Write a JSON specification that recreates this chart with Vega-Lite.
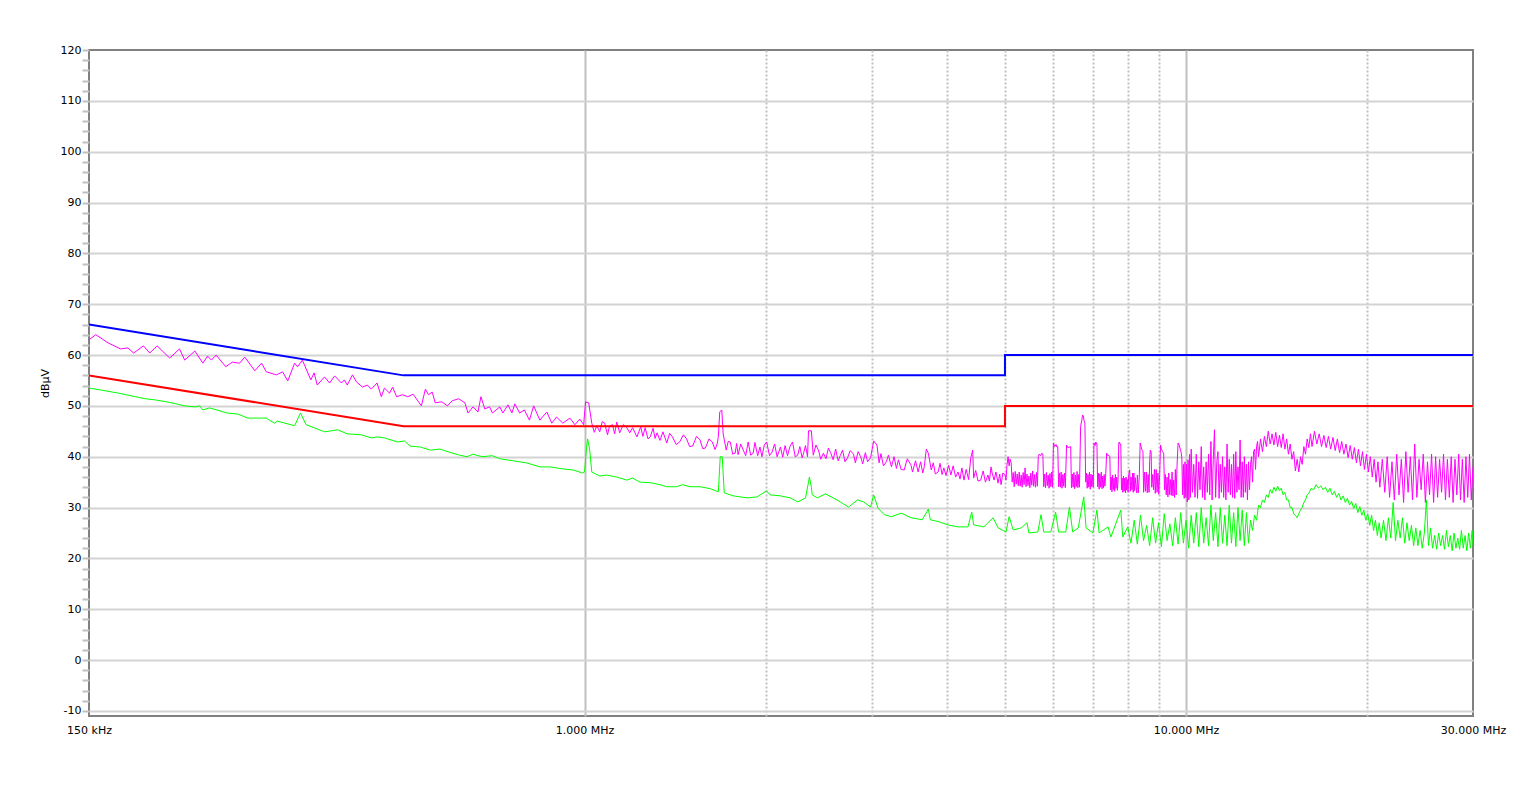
{
"$schema": "https://vega.github.io/schema/vega-lite/v6.json",
"width": 1384, "height": 666,
"autosize": {"type": "none"},
"padding": {"left": 89, "top": 50, "right": 51, "bottom": 71},
"background": "white",
"config": {
 "view": {"stroke": "#808080", "strokeWidth": 2},
 "axis": {"labelFont": "DejaVu Sans", "labelFontSize": 11, "labelColor": "#000000", "titleFont": "DejaVu Sans", "titleFontSize": 11, "titleFontWeight": "normal", "titleColor": "#000000"}
},
"datasets": {
"qp": [{"i":0,"f":0.15,"v":66},{"i":1,"f":0.5,"v":56},{"i":2,"f":5,"v":56},{"i":3,"f":5,"v":60},{"i":4,"f":30,"v":60}],
"avl": [{"i":0,"f":0.15,"v":56},{"i":1,"f":0.5,"v":46},{"i":2,"f":5,"v":46},{"i":3,"f":5,"v":50},{"i":4,"f":30,"v":50}],
"pk": [
{"f":0.150,"v":63.0},{"f":0.154,"v":64.0},{"f":0.1613,"v":62.4},{"f":0.1693,"v":61.2},{"f":0.174,"v":61.4},{"f":0.178,"v":60.4},{"f":0.1847,"v":61.8},{"f":0.1893,"v":60.4},{"f":0.1947,"v":61.8},{"f":0.2043,"v":59.4},{"f":0.2121,"v":61.2},{"f":0.2164,"v":59.0},{"f":0.225,"v":60.8},{"f":0.2319,"v":58.4},{"f":0.2362,"v":59.8},{"f":0.2397,"v":59.0},{"f":0.244,"v":60.0},{"f":0.2532,"v":57.7},{"f":0.2596,"v":58.6},{"f":0.267,"v":58.4},{"f":0.2723,"v":59.6},{"f":0.283,"v":56.9},{"f":0.2904,"v":58.4},{"f":0.2957,"v":56.7},{"f":0.3074,"v":56.1},{"f":0.3148,"v":56.7},{"f":0.321,"v":54.9},{"f":0.3296,"v":58.4},{"f":0.3333,"v":57.7},{"f":0.3395,"v":59.0},{"f":0.3507,"v":55.1},{"f":0.3551,"v":56.5},{"f":0.3594,"v":54.1},{"f":0.3696,"v":55.7},{"f":0.3768,"v":54.5},{"f":0.3841,"v":55.9},{"f":0.3942,"v":54.5},{"f":0.3986,"v":55.1},{"f":0.4032,"v":54.1},{"f":0.4113,"v":56.1},{"f":0.4177,"v":54.7},{"f":0.4274,"v":53.7},{"f":0.4354,"v":54.1},{"f":0.4419,"v":53.3},{"f":0.4519,"v":54.5},{"f":0.4593,"v":51.8},{"f":0.4648,"v":53.5},{"f":0.474,"v":52.5},{"f":0.4796,"v":53.7},{"f":0.487,"v":51.8},{"f":0.4981,"v":52.2},
{"f":0.5083,"v":51.8},{"f":0.5187,"v":52.3},{"f":0.5354,"v":50.0},{"f":0.5437,"v":53.3},{"f":0.550,"v":52.2},{"f":0.5582,"v":52.7},{"f":0.5645,"v":50.6},{"f":0.579,"v":50.8},{"f":0.5915,"v":50.0},{"f":0.6025,"v":51.0},{"f":0.6175,"v":51.4},{"f":0.6325,"v":50.6},{"f":0.640,"v":48.6},{"f":0.6525,"v":49.8},{"f":0.665,"v":48.8},{"f":0.6725,"v":51.8},{"f":0.6825,"v":49.4},{"f":0.695,"v":49.8},{"f":0.7029,"v":48.6},{"f":0.7229,"v":49.8},{"f":0.7315,"v":48.6},{"f":0.7458,"v":50.2},{"f":0.7572,"v":48.6},{"f":0.7658,"v":50.4},{"f":0.780,"v":48.6},{"f":0.7943,"v":49.2},{"f":0.8098,"v":47.2},{"f":0.823,"v":50.0},{"f":0.8426,"v":47.2},{"f":0.8656,"v":48.8},{"f":0.882,"v":46.6},{"f":0.8984,"v":47.8},{"f":0.920,"v":46.6},{"f":0.9455,"v":47.6},{"f":0.9637,"v":46.3},{"f":0.9819,"v":47.4},{"f":0.9965,"v":46.3},
{"f":1.004,"v":50.8},{"f":1.016,"v":50.6},{"f":1.028,"v":46.6},{"f":1.038,"v":44.8},{"f":1.048,"v":46.1},{"f":1.060,"v":44.9},{"f":1.07,"v":46.9},{"f":1.080,"v":46.6},{"f":1.092,"v":44.3},{"f":1.10,"v":46.0},{"f":1.113,"v":46.3},{"f":1.122,"v":44.5},{"f":1.131,"v":46.8},{"f":1.144,"v":44.7},{"f":1.16,"v":46.3},{"f":1.176,"v":45.7},{"f":1.189,"v":44.7},{"f":1.202,"v":45.7},{"f":1.222,"v":43.9},{"f":1.24,"v":45.9},{"f":1.25,"v":44.0},{"f":1.261,"v":45.7},{"f":1.275,"v":43.5},{"f":1.286,"v":43.9},{"f":1.30,"v":45.6},{"f":1.31,"v":43.6},{"f":1.320,"v":44.7},{"f":1.335,"v":43.2},{"f":1.350,"v":44.9},{"f":1.370,"v":42.7},{"f":1.385,"v":44.6},{"f":1.400,"v":43.9},{"f":1.42,"v":42.4},{"f":1.439,"v":42.9},{"f":1.46,"v":44.3},{"f":1.478,"v":43.5},{"f":1.495,"v":42.0},{"f":1.513,"v":42.1},{"f":1.535,"v":44.0},{"f":1.556,"v":43.3},{"f":1.572,"v":41.6},{"f":1.588,"v":41.7},{"f":1.61,"v":43.5},{"f":1.631,"v":42.9},{"f":1.648,"v":41.4},{"f":1.663,"v":42.7},{"f":1.669,"v":44.0},{"f":1.678,"v":48.8},{"f":1.691,"v":49.2},{"f":1.700,"v":44.5},
{"f":1.720,"v":41.3},{"f":1.733,"v":43.0},{"f":1.747,"v":42.9},{"f":1.763,"v":40.5},{"f":1.780,"v":40.7},{"f":1.79,"v":42.6},{"f":1.80,"v":40.4},{"f":1.818,"v":42.5},{"f":1.836,"v":41.3},{"f":1.853,"v":40.2},{"f":1.871,"v":42.9},{"f":1.889,"v":40.3},{"f":1.907,"v":40.7},{"f":1.92,"v":42.8},{"f":1.94,"v":40.2},{"f":1.957,"v":41.9},{"f":1.972,"v":40.0},{"f":1.99,"v":42.3},{"f":2.008,"v":42.9},{"f":2.03,"v":40.2},{"f":2.050,"v":40.9},{"f":2.07,"v":42.5},{"f":2.09,"v":40.0},{"f":2.117,"v":41.9},{"f":2.135,"v":39.9},{"f":2.155,"v":42.2},{"f":2.175,"v":40.2},{"f":2.195,"v":42.0},{"f":2.217,"v":42.9},{"f":2.24,"v":40.0},{"f":2.261,"v":40.3},{"f":2.28,"v":42.0},{"f":2.30,"v":39.8},{"f":2.313,"v":40.7},{"f":2.33,"v":42.2},{"f":2.348,"v":40.0},{"f":2.357,"v":45.1},{"f":2.383,"v":45.1},{"f":2.400,"v":40.3},{"f":2.425,"v":42.3},{"f":2.448,"v":41.3},{"f":2.47,"v":39.5},{"f":2.495,"v":40.7},{"f":2.52,"v":39.6},{"f":2.543,"v":41.7},{"f":2.565,"v":40.8},{"f":2.590,"v":39.4},{"f":2.615,"v":41.5},{"f":2.64,"v":39.2},{"f":2.663,"v":40.3},{"f":2.685,"v":41.3},{"f":2.71,"v":39.0},{"f":2.737,"v":39.8},{"f":2.765,"v":41.2},{"f":2.800,"v":40.5},{"f":2.82,"v":38.8},{"f":2.85,"v":41.0},{"f":2.878,"v":40.0},{"f":2.9,"v":38.6},{"f":2.93,"v":40.8},{"f":2.955,"v":39.0},{"f":2.989,"v":39.8},{"f":3.025,"v":43.1},{"f":3.063,"v":42.3},{"f":3.088,"v":38.8},{"f":3.11,"v":40.6},{"f":3.14,"v":38.2},{"f":3.175,"v":39.0},{"f":3.2,"v":40.3},{"f":3.238,"v":38.0},{"f":3.27,"v":40.0},{"f":3.3,"v":37.7},{"f":3.325,"v":39.4},{"f":3.36,"v":37.5},{"f":3.40,"v":37.4},{"f":3.44,"v":39.6},{"f":3.488,"v":38.4},{"f":3.51,"v":37.0},{"f":3.55,"v":39.2},{"f":3.586,"v":37.0},{"f":3.62,"v":39.0},{"f":3.65,"v":36.8},{"f":3.671,"v":38.0},{"f":3.70,"v":41.5},{"f":3.729,"v":40.7},{"f":3.771,"v":37.4},{"f":3.80,"v":38.8},{"f":3.83,"v":36.6},{"f":3.871,"v":37.0},{"f":3.90,"v":38.7},{"f":3.93,"v":36.5},{"f":3.957,"v":37.8},{"f":3.99,"v":36.3},{"f":4.03,"v":38.3},{"f":4.065,"v":36.4},{"f":4.1,"v":38.2},{"f":4.14,"v":36.0},{"f":4.177,"v":37.0},{"f":4.21,"v":35.6},{"f":4.24,"v":37.8},{"f":4.274,"v":35.4},{"f":4.31,"v":37.5},{"f":4.35,"v":35.5},{"f":4.387,"v":39.8},{"f":4.419,"v":41.3},{"f":4.435,"v":35.8},{"f":4.47,"v":37.3},{"f":4.51,"v":35.2},{"f":4.556,"v":35.4},{"f":4.6,"v":37.2},{"f":4.64,"v":35.0},{"f":4.685,"v":36.4},{"f":4.71,"v":35.2},{"f":4.741,"v":38.0},{"f":4.76,"v":36.8},{"f":4.796,"v":35.4},{"f":4.83,"v":37.0},{"f":4.87,"v":34.8},{"f":4.9,"v":36.6},{"f":4.926,"v":34.5},{"f":4.96,"v":36.8},
{"f":5.00,"v":36.5},{"f":5.02,"v":35.4},{"f":5.04,"v":38.5},{"f":5.06,"v":40.0},{"f":5.08,"v":38.2},{"f":5.10,"v":39.5},{"f":5.12,"v":38.8},{"f":5.14,"v":35.0},{"f":5.16,"v":36.9},{"f":5.18,"v":34.1},{"f":5.20,"v":37.1},{"f":5.22,"v":34.6},{"f":5.24,"v":36.6},{"f":5.26,"v":34.3},{"f":5.28,"v":37.0},{"f":5.30,"v":34.2},{"f":5.32,"v":36.4},{"f":5.34,"v":34.0},{"f":5.36,"v":36.9},{"f":5.38,"v":34.5},{"f":5.40,"v":37.8},{"f":5.42,"v":34.1},{"f":5.44,"v":36.6},{"f":5.46,"v":34.3},{"f":5.48,"v":36.2},{"f":5.50,"v":33.9},{"f":5.52,"v":36.8},{"f":5.54,"v":34.4},{"f":5.56,"v":37.2},{"f":5.58,"v":34.2},{"f":5.60,"v":36.5},{"f":5.62,"v":34.0},{"f":5.64,"v":36.9},{"f":5.66,"v":34.2},
{"f":5.68,"v":40.0},{"f":5.70,"v":40.5},{"f":5.73,"v":40.2},{"f":5.76,"v":40.7},{"f":5.78,"v":40.5},{"f":5.80,"v":34.1},
{"f":5.82,"v":36.6},{"f":5.84,"v":33.9},{"f":5.86,"v":36.9},{"f":5.88,"v":34.3},{"f":5.90,"v":36.4},{"f":5.92,"v":33.8},{"f":5.94,"v":36.7},{"f":5.96,"v":34.1},{"f":5.98,"v":37.0},{"f":6.00,"v":34.0},
{"f":6.02,"v":42.7},{"f":6.05,"v":42.0},{"f":6.08,"v":42.4},{"f":6.10,"v":41.9},{"f":6.12,"v":42.0},{"f":6.14,"v":34.1},
{"f":6.16,"v":36.8},{"f":6.18,"v":34.0},{"f":6.20,"v":37.0},{"f":6.22,"v":33.8},{"f":6.24,"v":36.5},{"f":6.26,"v":34.2},{"f":6.28,"v":36.8},{"f":6.30,"v":33.9},
{"f":6.33,"v":42.3},{"f":6.36,"v":41.8},{"f":6.40,"v":41.9},{"f":6.43,"v":42.0},{"f":6.45,"v":33.9},
{"f":6.47,"v":36.6},{"f":6.49,"v":34.0},{"f":6.51,"v":36.9},{"f":6.53,"v":33.7},{"f":6.55,"v":36.4},{"f":6.57,"v":34.1},{"f":6.59,"v":37.1},{"f":6.61,"v":33.9},{"f":6.63,"v":36.5},{"f":6.65,"v":34.0},
{"f":6.68,"v":46.0},{"f":6.71,"v":47.2},{"f":6.73,"v":48.2},{"f":6.75,"v":48.0},{"f":6.77,"v":47.0},{"f":6.79,"v":46.6},{"f":6.81,"v":35.0},
{"f":6.83,"v":36.8},{"f":6.85,"v":33.8},{"f":6.87,"v":36.5},{"f":6.89,"v":34.0},{"f":6.91,"v":37.0},{"f":6.93,"v":33.6},{"f":6.95,"v":36.6},{"f":6.97,"v":34.1},{"f":6.99,"v":36.4},{"f":7.01,"v":34.0},
{"f":7.03,"v":42.7},{"f":7.06,"v":42.2},{"f":7.08,"v":42.9},{"f":7.11,"v":42.5},{"f":7.13,"v":34.1},
{"f":7.15,"v":36.8},{"f":7.17,"v":33.6},{"f":7.19,"v":36.6},{"f":7.21,"v":34.0},{"f":7.23,"v":37.0},{"f":7.25,"v":33.7},{"f":7.27,"v":36.2},{"f":7.29,"v":33.9},{"f":7.31,"v":36.5},{"f":7.33,"v":34.2},{"f":7.35,"v":36.0},
{"f":7.38,"v":40.7},{"f":7.41,"v":40.2},{"f":7.44,"v":40.3},{"f":7.47,"v":40.0},{"f":7.49,"v":33.5},
{"f":7.51,"v":36.0},{"f":7.53,"v":33.1},{"f":7.55,"v":36.4},{"f":7.57,"v":33.5},{"f":7.59,"v":35.8},{"f":7.61,"v":33.2},{"f":7.63,"v":36.5},{"f":7.65,"v":33.8},{"f":7.67,"v":36.0},{"f":7.69,"v":33.4},{"f":7.71,"v":35.5},
{"f":7.73,"v":42.7},{"f":7.75,"v":42.9},{"f":7.77,"v":42.4},{"f":7.79,"v":42.5},{"f":7.81,"v":33.5},
{"f":7.83,"v":35.8},{"f":7.85,"v":33.0},{"f":7.87,"v":36.2},{"f":7.89,"v":33.2},{"f":7.91,"v":35.8},{"f":7.93,"v":32.9},{"f":7.95,"v":36.0},{"f":7.97,"v":33.4},{"f":7.99,"v":35.5},{"f":8.01,"v":33.0},
{"f":8.03,"v":36.5},{"f":8.06,"v":37.4},{"f":8.08,"v":33.2},{"f":8.10,"v":36.0},{"f":8.13,"v":33.5},{"f":8.15,"v":36.8},{"f":8.17,"v":33.0},{"f":8.19,"v":36.8},{"f":8.21,"v":33.3},{"f":8.23,"v":35.9},{"f":8.25,"v":34.5},{"f":8.28,"v":32.9},{"f":8.30,"v":36.4},{"f":8.33,"v":32.9},{"f":8.36,"v":36.0},
{"f":8.39,"v":42.7},{"f":8.42,"v":42.0},{"f":8.45,"v":41.3},{"f":8.48,"v":41.0},{"f":8.50,"v":33.0},
{"f":8.53,"v":37.0},{"f":8.56,"v":33.2},{"f":8.59,"v":37.0},{"f":8.62,"v":32.9},{"f":8.65,"v":36.5},{"f":8.68,"v":33.0},
{"f":8.70,"v":39.0},{"f":8.72,"v":41.3},{"f":8.75,"v":41.0},{"f":8.77,"v":34.0},
{"f":8.80,"v":36.5},{"f":8.83,"v":33.5},{"f":8.86,"v":37.5},{"f":8.89,"v":32.8},{"f":8.92,"v":37.5},{"f":8.95,"v":33.0},{"f":8.98,"v":36.8},{"f":9.01,"v":32.6},{"f":9.04,"v":36.5},
{"f":9.07,"v":42.3},{"f":9.10,"v":41.5},{"f":9.14,"v":41.0},{"f":9.18,"v":40.7},{"f":9.21,"v":33.5},
{"f":9.24,"v":36.5},{"f":9.27,"v":32.5},{"f":9.30,"v":36.0},{"f":9.33,"v":32.1},{"f":9.36,"v":36.8},{"f":9.39,"v":32.5},{"f":9.42,"v":35.5},{"f":9.45,"v":32.4},{"f":9.48,"v":37.0},{"f":9.51,"v":32.3},{"f":9.54,"v":35.4},{"f":9.57,"v":32.0},{"f":9.60,"v":37.5},{"f":9.63,"v":32.5},{"f":9.66,"v":38.0},
{"f":9.70,"v":42.7},{"f":9.74,"v":42.3},{"f":9.78,"v":41.5},{"f":9.81,"v":41.0},{"f":9.84,"v":39.8},{"f":9.87,"v":32.5},
{"f":9.90,"v":38.5},{"f":9.93,"v":31.8},{"f":9.96,"v":39.0},{"f":9.99,"v":32.0},{"f":10.02,"v":38.5},{"f":10.05,"v":31.1},{"f":10.08,"v":39.4},{"f":10.11,"v":31.5},{"f":10.14,"v":40.5},{"f":10.17,"v":32.0},
{"f":10.20,"v":41.5},{"f":10.25,"v":33.0},{"f":10.30,"v":38.5},{"f":10.35,"v":32.0},{"f":10.40,"v":40.5},{"f":10.45,"v":31.8},{"f":10.50,"v":39.0},{"f":10.55,"v":33.5},{"f":10.60,"v":42.0},{"f":10.65,"v":32.0},{"f":10.70,"v":38.0},{"f":10.75,"v":31.5},{"f":10.80,"v":39.0},{"f":10.85,"v":33.0},{"f":10.90,"v":40.5},{"f":10.95,"v":32.5},{"f":11.00,"v":43.0},{"f":11.05,"v":31.5},{"f":11.10,"v":39.5},{"f":11.15,"v":45.3},{"f":11.20,"v":32.0},{"f":11.25,"v":39.0},{"f":11.30,"v":41.0},{"f":11.35,"v":31.8},{"f":11.40,"v":38.5},{"f":11.45,"v":33.0},{"f":11.50,"v":40.0},{"f":11.55,"v":32.0},{"f":11.60,"v":38.0},{"f":11.65,"v":31.5},{"f":11.70,"v":42.5},{"f":11.75,"v":33.0},{"f":11.80,"v":39.5},{"f":11.85,"v":32.5},{"f":11.90,"v":38.5},{"f":11.95,"v":32.0},{"f":12.00,"v":40.5},{"f":12.05,"v":31.8},{"f":12.10,"v":41.0},{"f":12.15,"v":33.0},{"f":12.20,"v":38.0},{"f":12.25,"v":33.5},{"f":12.30,"v":43.3},{"f":12.35,"v":32.0},{"f":12.40,"v":39.0},{"f":12.45,"v":32.0},{"f":12.50,"v":40.0},{"f":12.55,"v":33.0},{"f":12.60,"v":38.5},{"f":12.65,"v":31.5},{"f":12.70,"v":39.0},{"f":12.75,"v":33.5},{"f":12.80,"v":38.5},{"f":12.85,"v":40.0},{"f":12.90,"v":35.0},{"f":12.95,"v":41.0},{"f":13.00,"v":41.5},{"f":13.05,"v":37.5},{"f":13.10,"v":42.0},{"f":13.15,"v":43.0},{"f":13.2,"v":40.0},
{"f":13.3,"v":43.5},{"f":13.4,"v":41.0},{"f":13.5,"v":44.0},{"f":13.6,"v":42.0},{"f":13.7,"v":45.0},{"f":13.8,"v":42.5},{"f":13.9,"v":44.5},{"f":14.0,"v":42.3},{"f":14.1,"v":44.8},{"f":14.2,"v":42.0},{"f":14.3,"v":44.2},{"f":14.4,"v":41.8},{"f":14.5,"v":44.5},{"f":14.6,"v":41.5},{"f":14.7,"v":43.5},{"f":14.8,"v":40.5},{"f":14.9,"v":42.5},{"f":15.0,"v":39.5},{"f":15.1,"v":41.0},{"f":15.2,"v":37.2},{"f":15.3,"v":39.5},{"f":15.4,"v":37.0},{"f":15.5,"v":40.0},{"f":15.6,"v":38.5},{"f":15.7,"v":42.0},{"f":15.8,"v":40.5},{"f":15.9,"v":43.5},{"f":16.0,"v":41.8},{"f":16.1,"v":44.5},{"f":16.2,"v":42.0},{"f":16.35,"v":45.0},{"f":16.5,"v":42.5},{"f":16.65,"v":44.5},{"f":16.8,"v":42.0},{"f":16.95,"v":44.2},{"f":17.1,"v":41.8},{"f":17.25,"v":44.0},{"f":17.4,"v":41.5},{"f":17.55,"v":43.8},{"f":17.7,"v":41.2},{"f":17.85,"v":43.5},{"f":18.0,"v":40.8},{"f":18.15,"v":43.0},{"f":18.3,"v":40.5},{"f":18.45,"v":42.5},{"f":18.6,"v":39.8},{"f":18.75,"v":42.2},{"f":18.9,"v":39.5},{"f":19.05,"v":41.8},{"f":19.2,"v":38.8},{"f":19.35,"v":41.5},{"f":19.5,"v":38.2},{"f":19.65,"v":41.0},{"f":19.8,"v":37.5},{"f":19.95,"v":40.5},{"f":20.1,"v":37.0},{"f":20.25,"v":40.0},{"f":20.4,"v":36.0},{"f":20.55,"v":39.5},{"f":20.7,"v":35.0},{"f":20.85,"v":39.0},
{"f":21.0,"v":34.0},{"f":21.2,"v":39.5},{"f":21.4,"v":33.0},{"f":21.6,"v":40.0},{"f":21.8,"v":32.0},{"f":22.0,"v":39.0},{"f":22.2,"v":31.5},{"f":22.4,"v":40.5},{"f":22.6,"v":32.5},{"f":22.8,"v":39.5},{"f":23.0,"v":31.0},{"f":23.2,"v":41.0},{"f":23.4,"v":33.0},{"f":23.6,"v":40.0},{"f":23.8,"v":31.5},{"f":24.0,"v":42.5},{"f":24.2,"v":32.0},{"f":24.4,"v":39.5},{"f":24.6,"v":33.5},{"f":24.8,"v":40.5},{"f":25.0,"v":31.0},{"f":25.2,"v":39.0},{"f":25.4,"v":32.5},{"f":25.6,"v":40.5},{"f":25.8,"v":31.0},{"f":26.0,"v":40.0},{"f":26.2,"v":32.0},{"f":26.4,"v":39.5},{"f":26.6,"v":33.0},{"f":26.8,"v":40.5},{"f":27.0,"v":31.5},{"f":27.2,"v":39.5},{"f":27.4,"v":32.0},{"f":27.6,"v":40.0},{"f":27.8,"v":31.0},{"f":28.0,"v":39.5},{"f":28.2,"v":32.5},{"f":28.4,"v":40.5},{"f":28.6,"v":31.5},{"f":28.8,"v":39.5},{"f":29.0,"v":31.0},{"f":29.2,"v":40.0},{"f":29.4,"v":32.0},{"f":29.6,"v":40.5},{"f":29.8,"v":31.5},{"f":30.0,"v":38.0}
],
"av": [
{"f":0.150,"v":53.5},{"f":0.1573,"v":53.1},{"f":0.168,"v":52.5},{"f":0.1793,"v":51.8},{"f":0.186,"v":51.4},{"f":0.1927,"v":51.2},{"f":0.2017,"v":50.8},{"f":0.2095,"v":50.4},{"f":0.2164,"v":50.0},{"f":0.225,"v":49.8},{"f":0.2293,"v":50.0},{"f":0.2319,"v":49.2},{"f":0.2379,"v":49.6},{"f":0.2448,"v":49.2},{"f":0.2543,"v":48.6},{"f":0.2649,"v":48.4},{"f":0.2755,"v":47.6},{"f":0.2862,"v":47.6},{"f":0.2957,"v":47.6},{"f":0.3049,"v":46.6},{"f":0.3086,"v":47.0},{"f":0.3173,"v":46.6},{"f":0.3296,"v":46.1},{"f":0.337,"v":48.6},{"f":0.3444,"v":46.3},{"f":0.3551,"v":45.7},{"f":0.3696,"v":44.9},{"f":0.3797,"v":45.1},{"f":0.3884,"v":45.3},{"f":0.4032,"v":44.5},{"f":0.4258,"v":44.3},{"f":0.4419,"v":43.7},{"f":0.4519,"v":43.9},{"f":0.4648,"v":43.7},{"f":0.4889,"v":42.9},
{"f":0.502,"v":43.1},{"f":0.5125,"v":42.1},{"f":0.5333,"v":41.9},{"f":0.5541,"v":41.3},{"f":0.575,"v":41.5},{"f":0.5958,"v":40.9},{"f":0.620,"v":40.3},{"f":0.6375,"v":40.0},{"f":0.6525,"v":40.5},{"f":0.675,"v":40.0},{"f":0.7029,"v":40.2},{"f":0.7229,"v":39.6},{"f":0.760,"v":39.2},{"f":0.800,"v":38.8},{"f":0.8426,"v":38.0},{"f":0.8754,"v":38.0},{"f":0.920,"v":37.6},{"f":0.9564,"v":37.4},{"f":0.9928,"v":36.8},{"f":1.0,"v":37.0},{"f":1.008,"v":42.0},{"f":1.012,"v":43.5},{"f":1.020,"v":41.3},{"f":1.028,"v":37.0},
{"f":1.060,"v":36.2},{"f":1.088,"v":36.4},{"f":1.131,"v":36.0},{"f":1.176,"v":35.4},{"f":1.202,"v":35.8},{"f":1.236,"v":35.0},{"f":1.286,"v":34.9},{"f":1.335,"v":34.5},{"f":1.370,"v":34.1},{"f":1.422,"v":34.1},{"f":1.456,"v":34.5},{"f":1.494,"v":34.1},{"f":1.556,"v":34.1},{"f":1.619,"v":33.7},{"f":1.669,"v":33.1},{"f":1.681,"v":40.0},{"f":1.694,"v":40.0},{"f":1.707,"v":32.9},{"f":1.767,"v":32.3},{"f":1.864,"v":31.9},{"f":1.936,"v":32.1},{"f":2.008,"v":33.3},{"f":2.033,"v":32.5},{"f":2.117,"v":32.3},{"f":2.200,"v":31.9},{"f":2.261,"v":31.1},{"f":2.330,"v":31.9},{"f":2.357,"v":35.0},{"f":2.365,"v":36.0},{"f":2.383,"v":34.0},{"f":2.391,"v":32.5},{"f":2.438,"v":31.9},{"f":2.514,"v":32.7},{"f":2.590,"v":31.9},{"f":2.663,"v":31.1},{"f":2.747,"v":30.1},{"f":2.844,"v":31.5},{"f":2.911,"v":31.1},{"f":2.989,"v":30.1},{"f":3.025,"v":32.5},{"f":3.075,"v":29.9},{"f":3.150,"v":28.6},{"f":3.238,"v":28.2},{"f":3.363,"v":28.9},{"f":3.488,"v":28.0},{"f":3.643,"v":27.6},{"f":3.729,"v":29.7},{"f":3.757,"v":27.6},{"f":3.886,"v":27.2},{"f":4.016,"v":26.6},{"f":4.177,"v":26.2},{"f":4.339,"v":26.2},{"f":4.403,"v":29.1},{"f":4.435,"v":26.6},{"f":4.611,"v":26.2},{"f":4.778,"v":28.0},{"f":4.870,"v":26.0},
{"f":5.02,"v":25.2},{"f":5.08,"v":28.2},{"f":5.16,"v":25.6},{"f":5.32,"v":26.0},{"f":5.44,"v":27.0},{"f":5.48,"v":25.0},{"f":5.67,"v":25.2},{"f":5.74,"v":28.6},{"f":5.80,"v":25.2},{"f":5.96,"v":25.2},{"f":6.07,"v":29.1},{"f":6.14,"v":25.2},{"f":6.31,"v":25.2},{"f":6.40,"v":30.1},{"f":6.48,"v":25.2},{"f":6.62,"v":26.0},{"f":6.76,"v":32.1},{"f":6.82,"v":26.0},{"f":7.00,"v":25.0},{"f":7.11,"v":29.5},{"f":7.17,"v":25.0},{"f":7.42,"v":26.2},{"f":7.50,"v":24.2},{"f":7.79,"v":29.5},{"f":7.85,"v":24.2},{"f":8.00,"v":26.2},
{"f":8.1,"v":23.0},{"f":8.2,"v":27.5},{"f":8.3,"v":22.8},{"f":8.4,"v":28.5},{"f":8.5,"v":23.5},{"f":8.6,"v":26.5},{"f":8.7,"v":22.5},{"f":8.8,"v":28.0},{"f":8.9,"v":23.0},{"f":9.0,"v":27.0},{"f":9.1,"v":22.3},{"f":9.2,"v":28.8},{"f":9.3,"v":23.5},{"f":9.4,"v":26.8},{"f":9.5,"v":22.5},{"f":9.6,"v":28.0},{"f":9.7,"v":22.8},{"f":9.8,"v":29.0},{"f":9.9,"v":23.0},{"f":10.0,"v":27.5},{"f":10.1,"v":22.0},{"f":10.2,"v":28.5},{"f":10.3,"v":23.0},{"f":10.4,"v":29.0},{"f":10.5,"v":22.3},{"f":10.6,"v":30.0},{"f":10.7,"v":23.0},{"f":10.8,"v":28.0},{"f":10.9,"v":22.5},{"f":11.0,"v":30.5},{"f":11.1,"v":23.5},{"f":11.2,"v":29.0},{"f":11.3,"v":22.3},{"f":11.4,"v":30.0},{"f":11.5,"v":23.0},{"f":11.6,"v":28.5},{"f":11.7,"v":22.5},{"f":11.8,"v":30.5},{"f":11.9,"v":23.0},{"f":12.0,"v":29.0},{"f":12.1,"v":22.3},{"f":12.2,"v":30.0},{"f":12.3,"v":23.5},{"f":12.4,"v":29.5},{"f":12.5,"v":22.5},{"f":12.6,"v":29.0},{"f":12.7,"v":23.0},{"f":12.8,"v":27.5},{"f":12.9,"v":25.5},{"f":13.0,"v":28.5},{"f":13.1,"v":27.5},{"f":13.2,"v":30.5},{"f":13.3,"v":30.0},
{"f":13.4,"v":31.5},{"f":13.5,"v":31.0},{"f":13.6,"v":32.5},{"f":13.7,"v":32.0},{"f":13.8,"v":33.5},{"f":13.9,"v":32.8},{"f":14.0,"v":34.0},{"f":14.1,"v":33.2},{"f":14.2,"v":34.2},{"f":14.3,"v":33.3},{"f":14.4,"v":33.8},{"f":14.5,"v":32.5},{"f":14.6,"v":33.0},{"f":14.7,"v":31.5},{"f":14.8,"v":31.5},{"f":14.9,"v":30.0},{"f":15.0,"v":30.0},{"f":15.1,"v":28.8},{"f":15.2,"v":28.5},{"f":15.3,"v":28.0},{"f":15.4,"v":28.8},{"f":15.5,"v":29.5},{"f":15.6,"v":30.0},{"f":15.7,"v":31.0},{"f":15.8,"v":31.5},{"f":15.9,"v":32.5},{"f":16.0,"v":32.8},{"f":16.15,"v":33.8},{"f":16.3,"v":33.5},{"f":16.45,"v":34.5},{"f":16.6,"v":33.8},{"f":16.75,"v":34.3},{"f":16.9,"v":33.5},{"f":17.05,"v":34.0},{"f":17.2,"v":33.0},{"f":17.35,"v":33.8},{"f":17.5,"v":32.5},{"f":17.65,"v":33.2},{"f":17.8,"v":32.0},{"f":17.95,"v":32.8},{"f":18.1,"v":31.5},{"f":18.25,"v":32.3},{"f":18.4,"v":31.0},{"f":18.55,"v":31.8},{"f":18.7,"v":30.5},{"f":18.85,"v":31.2},{"f":19.0,"v":29.8},{"f":19.15,"v":30.8},{"f":19.3,"v":29.0},{"f":19.45,"v":30.2},{"f":19.6,"v":28.5},{"f":19.75,"v":29.5},{"f":19.9,"v":27.5},{"f":20.05,"v":28.8},{"f":20.2,"v":26.5},{"f":20.35,"v":28.5},{"f":20.5,"v":25.5},{"f":20.65,"v":27.5},{"f":20.8,"v":24.5},{"f":20.95,"v":27.0},{"f":21.1,"v":24.0},{"f":21.3,"v":27.5},{"f":21.5,"v":23.5},{"f":21.7,"v":28.0},{"f":21.9,"v":24.0},{"f":22.1,"v":31.0},{"f":22.3,"v":23.5},{"f":22.5,"v":27.5},{"f":22.7,"v":24.0},{"f":22.9,"v":28.0},{"f":23.1,"v":23.0},{"f":23.3,"v":27.0},{"f":23.5,"v":23.5},{"f":23.7,"v":26.5},{"f":23.9,"v":22.5},{"f":24.1,"v":26.0},{"f":24.3,"v":22.5},{"f":24.5,"v":25.5},{"f":24.7,"v":22.0},{"f":24.9,"v":25.0},{"f":25.1,"v":31.5},{"f":25.3,"v":22.5},{"f":25.5,"v":26.0},{"f":25.7,"v":22.0},{"f":25.9,"v":24.5},{"f":26.1,"v":21.8},{"f":26.3,"v":25.0},{"f":26.5,"v":22.5},{"f":26.7,"v":24.5},{"f":26.9,"v":21.8},{"f":27.1,"v":25.5},{"f":27.3,"v":22.3},{"f":27.5,"v":24.5},{"f":27.7,"v":21.5},{"f":27.9,"v":25.0},{"f":28.1,"v":22.0},{"f":28.3,"v":24.0},{"f":28.5,"v":21.8},{"f":28.7,"v":25.5},{"f":28.9,"v":22.0},{"f":29.1,"v":24.5},{"f":29.3,"v":21.5},{"f":29.5,"v":25.0},{"f":29.7,"v":22.0},{"f":29.9,"v":25.5},{"f":30.0,"v":22.5}
]
},
"layer": [
 {"data": {"name": "pk"},
  "mark": {"type": "line", "color": "#ff00ff", "strokeWidth": 1, "clip": true},
  "encoding": {
   "x": {"field": "f", "type": "quantitative",
         "scale": {"type": "log", "domain": [0.15, 30], "nice": false},
         "axis": {"values": [0.15, 1, 2, 3, 4, 5, 6, 7, 8, 9, 10, 20, 30], "tickCount": 100,
                  "labelExpr": "datum.value == 0.15 ? '150 kHz' : datum.value == 1 ? '1.000 MHz' : datum.value == 10 ? '10.000 MHz' : datum.value == 30 ? '30.000 MHz' : ''",
                  "title": null, "domain": false, "ticks": false, "labelPadding": 8, "labelFlush": false, "labelOverlap": false,
                  "grid": true, "gridColor": "#c0c0c0", "gridWidth": 2,
                  "gridDash": {"condition": {"test": "datum.value == 1 || datum.value == 10", "value": []}, "value": [2, 2]},
                  "gridOpacity": {"condition": {"test": "datum.value == 0.15 || datum.value == 30", "value": 0}, "value": 1}}},
   "y": {"field": "v", "type": "quantitative",
         "scale": {"domain": [-11, 120], "nice": false, "zero": false},
         "axis": {"values": [-10,-8,-6,-4,-2,0,2,4,6,8,10,12,14,16,18,20,22,24,26,28,30,32,34,36,38,40,42,44,46,48,50,52,54,56,58,60,62,64,66,68,70,72,74,76,78,80,82,84,86,88,90,92,94,96,98,100,102,104,106,108,110,112,114,116,118,120],
                  "tickCount": 200,
                  "labelExpr": "datum.value % 10 == 0 ? '' + datum.value : ''",
                  "labelOverlap": false, "labelPadding": 1, "domain": false,
                  "tickSize": 7, "tickColor": "#c0c0c0", "tickWidth": 2,
                  "grid": true, "gridColor": "#d3d3d3", "gridWidth": 2,
                  "gridOpacity": {"condition": {"test": "datum.value % 10 == 0 && datum.value != 120", "value": 1}, "value": 0},
                  "title": "dBµV", "titleAngle": -90, "titleX": -44, "titleY": 333, "titleAlign": "center", "titleBaseline": "middle"}}
  }},
 {"data": {"name": "av"},
  "mark": {"type": "line", "color": "#00ff00", "strokeWidth": 1, "clip": true},
  "encoding": {"x": {"field": "f", "type": "quantitative"}, "y": {"field": "v", "type": "quantitative"}}},
 {"data": {"name": "avl"},
  "mark": {"type": "line", "color": "#ff0000", "strokeWidth": 2, "clip": true},
  "encoding": {"x": {"field": "f", "type": "quantitative"}, "y": {"field": "v", "type": "quantitative"}, "order": {"field": "i", "type": "quantitative"}}},
 {"data": {"name": "qp"},
  "mark": {"type": "line", "color": "#0000ff", "strokeWidth": 2, "clip": true},
  "encoding": {"x": {"field": "f", "type": "quantitative"}, "y": {"field": "v", "type": "quantitative"}, "order": {"field": "i", "type": "quantitative"}}}
]
}
